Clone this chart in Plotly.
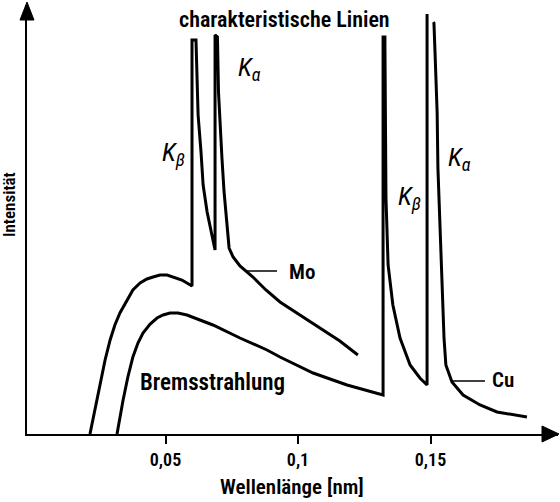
import plotly.graph_objects as go

# Mo spectrum (wavelength in nm, intensity in arbitrary units)
mo_wl = [0.0215, 0.0234, 0.0253, 0.0272, 0.0291, 0.0309, 0.0328, 0.0355, 0.0377,
         0.0404, 0.0430, 0.0453, 0.0479, 0.0506, 0.0528, 0.0562, 0.0600,
         0.0600, 0.0615, 0.0619, 0.0623, 0.0634, 0.0642, 0.0657, 0.0672, 0.0687,
         0.0687, 0.0696, 0.0700, 0.0706, 0.0713, 0.0721, 0.0732, 0.0740, 0.0755,
         0.0781, 0.0830, 0.0879, 0.0932, 0.1008, 0.1083, 0.1158, 0.1226]
mo_int = [0, 24, 51, 74, 94, 109, 121, 134, 144,
          151, 155, 157, 159, 159, 157, 154, 148,
          394, 394, 359, 319, 282, 249, 222, 202, 184,
          399, 397, 342, 309, 276, 242, 209, 186, 177,
          168, 157, 144, 132, 119, 106, 93, 79]

# Cu spectrum (None = break between the separately drawn K-alpha edges)
cu_wl = [0.0317, 0.0328, 0.0340, 0.0358, 0.0377, 0.0396, 0.0415, 0.0442, 0.0468,
         0.0491, 0.0517, 0.0547, 0.0581, 0.0679, 0.0781, 0.0883, 0.0932, 0.1057,
         0.1185, 0.1321,
         0.1321, 0.1328, 0.1328, 0.1332, 0.1336, 0.1340, 0.1358, 0.1385, 0.1423,
         0.1460, 0.1487,
         0.1487, None,
         0.1511, 0.1513, 0.1517, 0.1525, 0.1528, 0.1536, 0.1543, 0.1551,
         0.1558, 0.1581, 0.1623, 0.1687, 0.1751, 0.1864]
cu_int = [0, 17, 34, 57, 77, 91, 101, 110, 116,
          119, 121, 121, 119, 109, 96, 84, 77, 61,
          49, 39,
          397, 397, 391, 236, 196, 169, 129, 96, 69,
          56, 49,
          420, None,
          412, 411, 382, 322, 266, 209, 146, 96,
          69, 52, 39, 29, 22, 17]

tick_vals = [0.05, 0.1, 0.15]
tick_text = ["0,05", "0,1", "0,15"]

FONT = "Roboto Condensed, Open Sans Condensed, DejaVu Sans Condensed, sans-serif"

# pixel geometry of the plot area
L, R, T, B = 27, 558, 5, 434
W, H = 560, 502
PX0, PXS = 33, 2650.0  # x pixel of wavelength 0, pixels per nm


def dx(px):
    return (px - PX0) / PXS


def dy(py):
    return B - py


fig = go.Figure()
line = dict(color="black", width=3)
fig.add_trace(go.Scatter(x=mo_wl, y=mo_int, mode="lines", line=line,
                         hoverinfo="skip", showlegend=False))
fig.add_trace(go.Scatter(x=cu_wl, y=cu_int, mode="lines", line=line, connectgaps=False,
                         hoverinfo="skip", showlegend=False))

ann = []


def label(text, px, py, size=18):
    ann.append(dict(x=dx(px), y=dy(py), xref="x", yref="y", text=text,
                    showarrow=False,
                    font=dict(family=FONT, size=size, color="black", weight=600),
                    xanchor="center", yanchor="middle"))


label("charakteristische Linien", 284, 19, size=22)
label("Bremsstrahlung", 212, 382, size=23)
label("Mo", 302, 272, size=21)
label("Cu", 503, 380, size=21)
for txt, px, py in [("<i>K</i><sub><i>β</i></sub>", 173, 153), ("<i>K</i><sub><i>α</i></sub>", 249, 68),
                    ("<i>K</i><sub><i>β</i></sub>", 409, 197), ("<i>K</i><sub><i>α</i></sub>", 459, 158)]:
    ann.append(dict(x=dx(px), y=dy(py), xref="x", yref="y", text=txt, showarrow=False,
                    font=dict(family="Roboto Condensed, sans-serif", size=26, color="black"),
                    xanchor="center", yanchor="middle"))

# y axis title
ann.append(dict(x=(9 - L) / (R - L), y=(B - 205) / (B - T), xref="paper", yref="paper",
                text="Intensität", textangle=-90, showarrow=False,
                font=dict(family=FONT, size=17, color="black", weight=600),
                xanchor="center", yanchor="middle"))
# x axis title
ann.append(dict(x=(292 - L) / (R - L), y=(B - 487) / (B - T), xref="paper", yref="paper",
                text="Wellenlänge [nm]", showarrow=False,
                font=dict(family=FONT, size=21, color="black", weight=600),
                xanchor="center", yanchor="middle"))

shapes = []
# leader lines
for (x0, x1, py) in [(245, 277, 271), (453, 485, 381)]:
    shapes.append(dict(type="line", xref="x", yref="y", x0=dx(x0), x1=dx(x1),
                       y0=dy(py), y1=dy(py), line=dict(color="black", width=1.5)))


def pp(px, py):
    return f"{(px - L) / (R - L):.5f},{(B - py) / (B - T):.5f}"


# arrow heads
shapes.append(dict(type="path", xref="paper", yref="paper",
                   path=f"M{pp(27, 2)} L{pp(20, 20)} L{pp(34, 20)} Z",
                   fillcolor="black", line=dict(color="black", width=1)))
shapes.append(dict(type="path", xref="paper", yref="paper",
                   path=f"M{pp(559, 434)} L{pp(542, 426)} L{pp(542, 442)} Z",
                   fillcolor="black", line=dict(color="black", width=1)))

fig.update_layout(
    width=W, height=H,
    margin=dict(l=L, r=W - R, t=T, b=H - B),
    plot_bgcolor="white", paper_bgcolor="white",
    annotations=ann, shapes=shapes,
    xaxis=dict(range=[dx(L), dx(R)], showgrid=False, zeroline=False,
               showline=True, linecolor="black", linewidth=2,
               ticks="outside", ticklen=8, tickwidth=1.5, tickcolor="black",
               tickvals=tick_vals, ticktext=tick_text,
               tickfont=dict(family=FONT, size=18, color="black", weight=600)),
    yaxis=dict(range=[0, B - T], showgrid=False, zeroline=False,
               showline=True, linecolor="black", linewidth=2,
               showticklabels=False, ticks=""),
)

fig.write_html("out.html", config={"displayModeBar": False},
               post_script="document.body.style.margin='0';document.body.style.padding='0';")
